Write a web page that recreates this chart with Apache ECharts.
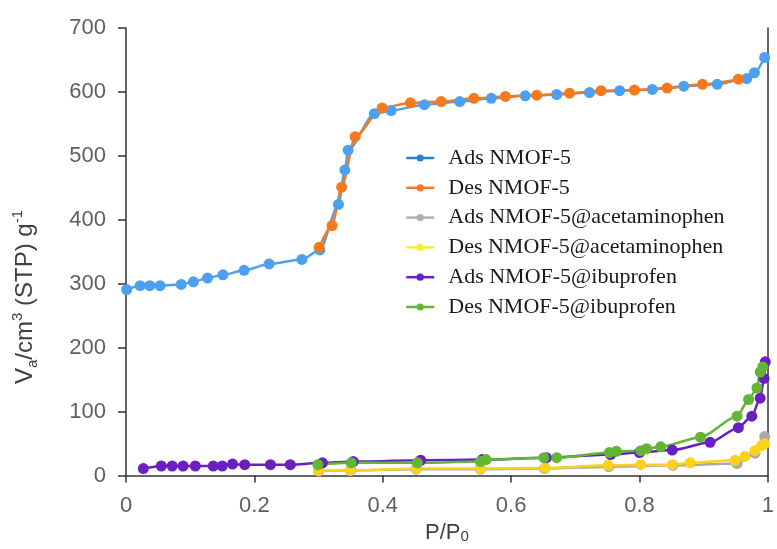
<!DOCTYPE html>
<html>
<head>
<meta charset="utf-8">
<script src="https://cdn.jsdelivr.net/npm/echarts@6/dist/echarts.min.js"></script>
<style>
  html, body { margin: 0; padding: 0; background: #ffffff; }
  #chart { width: 777px; height: 549px; }
</style>
</head>
<body>
<div id="chart"></div>
<script>
// N2 isotherms: relative pressure (P/P0) and adsorbed volume (cm3 STP / g)
const seriesNames = [
  'Ads NMOF-5',
  'Des NMOF-5',
  'Ads NMOF-5@acetaminophen',
  'Des NMOF-5@acetaminophen',
  'Ads NMOF-5@ibuprofen',
  'Des NMOF-5@ibuprofen'
];

const adsNmofP = [0.001, 0.022, 0.037, 0.053, 0.086, 0.105, 0.127, 0.151, 0.184, 0.223, 0.274, 0.302, 0.331, 0.341, 0.346, 0.387, 0.413, 0.465, 0.520, 0.569, 0.622, 0.671, 0.722, 0.769, 0.820, 0.869, 0.921, 0.967, 0.979, 0.995];
const adsNmofV = [291, 297, 297, 297, 299, 303, 309, 314, 321, 331, 338, 353, 424, 478, 509, 566, 571, 580, 585, 590, 594, 596, 599, 602, 604, 609, 612, 621, 630, 654];

const desNmofP = [0.301, 0.321, 0.336, 0.357, 0.399, 0.443, 0.491, 0.542, 0.591, 0.640, 0.691, 0.740, 0.792, 0.843, 0.898, 0.954];
const desNmofV = [357, 391, 451, 530, 575, 583, 585, 590, 593, 595, 598, 602, 603, 606, 612, 620];

const adsAcetP = [0.300, 0.350, 0.452, 0.552, 0.652, 0.752, 0.852, 0.952, 0.980, 0.995];
const adsAcetV = [7, 8, 10, 10, 11, 14, 16, 19, 35, 61];

const desAcetP = [0.300, 0.349, 0.452, 0.552, 0.653, 0.751, 0.802, 0.851, 0.879, 0.949, 0.964, 0.980, 0.990, 0.995];
const desAcetV = [8, 8, 11, 11, 12, 16, 17, 17, 20, 24, 30, 39, 47, 50];

const adsIbuP = [0.027, 0.055, 0.072, 0.089, 0.108, 0.136, 0.150, 0.166, 0.185, 0.225, 0.256, 0.306, 0.354, 0.459, 0.555, 0.655, 0.755, 0.800, 0.851, 0.910, 0.954, 0.975, 0.988, 0.994, 0.996];
const adsIbuV = [11, 15, 15, 15, 15, 15, 15, 18, 17, 17, 17, 20, 22, 24, 25, 28, 33, 36, 40, 52, 75, 93, 121, 152, 178];

const desIbuP = [0.299, 0.351, 0.454, 0.552, 0.561, 0.651, 0.671, 0.753, 0.764, 0.802, 0.811, 0.833, 0.895, 0.952, 0.970, 0.983, 0.988, 0.992];
const desIbuV = [17, 20, 20, 22, 25, 28, 28, 36, 38, 39, 42, 45, 60, 93, 119, 137, 162, 170];

const xTicks = [0, 0.2, 0.4, 0.6, 0.8, 1];
const yTicks = [0, 100, 200, 300, 400, 500, 600, 700];

const pressures = [adsNmofP, desNmofP, adsAcetP, desAcetP, adsIbuP, desIbuP];
const volumes = [adsNmofV, desNmofV, adsAcetV, desAcetV, adsIbuV, desIbuV];
const colors = ['#4d9ff0', '#f57a1e', '#a9a9a9', '#fcd21a', '#6a1fc2', '#63b536'];
const legendColors = ['#2f7fd0', '#f57a1e', '#b0b0b0', '#f7ec3c', '#6a1fc2', '#63b536'];

const sansFont = 'Liberation Sans, Arial, sans-serif';

const series = seriesNames.map((name, i) => ({
  name: name,
  type: 'line',
  data: pressures[i].map((p, k) => [p, volumes[i][k]]),
  smooth: 0.25,
  smoothMonotone: 'x',
  symbol: 'circle',
  symbolSize: 11,
  showSymbol: true,
  color: colors[i],
  lineStyle: { width: 2.5, color: colors[i] },
  itemStyle: { color: colors[i] },
  emphasis: { disabled: true },
  animation: false
}));

const tickLabelStyle = {
  fontFamily: sansFont,
  fontSize: 22,
  color: '#5f5f5f'
};

const chart = echarts.init(document.getElementById('chart'), null, { renderer: 'canvas' });
chart.setOption({
  animation: false,
  backgroundColor: '#ffffff',
  grid: { left: 126, right: 4, top: 28, bottom: 67, containLabel: false },
  xAxis: {
    type: 'value',
    min: 0,
    max: 1,
    interval: 0.2,
    name: 'P/P{sub|0}',
    nameLocation: 'middle',
    nameGap: 42,
    nameTextStyle: {
      fontFamily: sansFont,
      fontSize: 22,
      color: '#404040',
      rich: {
        sub: { fontSize: 15, verticalAlign: 'bottom', color: '#404040', fontFamily: sansFont, padding: [8, 0, 0, 0] }
      }
    },
    axisLine: { show: true, onZero: false, lineStyle: { color: '#333333', width: 1.5 } },
    axisTick: { show: true, inside: false, length: 7, lineStyle: { color: '#333333', width: 1.5 } },
    axisLabel: {
      ...tickLabelStyle,
      margin: 19,
      formatter: v => {
        const t = xTicks.find(x => Math.abs(x - v) < 1e-9);
        return t === undefined ? '' : String(t);
      }
    },
    splitLine: { show: false }
  },
  yAxis: [{
    type: 'value',
    min: 0,
    max: 700,
    interval: 100,
    axisLine: { show: true, lineStyle: { color: '#333333', width: 1.5 } },
    axisTick: { show: true, inside: false, length: 8, lineStyle: { color: '#333333', width: 1.5 } },
    axisLabel: {
      ...tickLabelStyle,
      margin: 20,
      formatter: v => (yTicks.indexOf(v) >= 0 ? String(v) : '')
    },
    splitLine: { show: false }
  }, {
    type: 'value',
    position: 'right',
    min: 0,
    max: 700,
    interval: 100,
    axisLine: { show: true, lineStyle: { color: '#333333', width: 1.5 } },
    axisTick: { show: false },
    axisLabel: { show: false },
    splitLine: { show: false }
  }],
  graphic: [{
    // vertical axis title, written bottom-to-top
    type: 'text',
    x: 25,
    y: 297,
    rotation: Math.PI / 2,
    silent: true,
    style: {
      text: 'V{sub|a}/cm{sup|3} (STP) g{sup|-1}',
      fontFamily: sansFont,
      fontSize: 24,
      lineHeight: 30,
      fill: '#404040',
      align: 'center',
      verticalAlign: 'middle',
      rich: {
        sub: { fontSize: 15, verticalAlign: 'bottom', lineHeight: 30, fill: '#404040', fontFamily: sansFont, padding: [10, 0, 0, 0] },
        sup: { fontSize: 15, verticalAlign: 'top', lineHeight: 30, fill: '#404040', fontFamily: sansFont, padding: [0, 0, 10, 0] }
      }
    }
  }],
  legend: {
    orient: 'vertical',
    left: 405,
    top: 147,
    itemWidth: 28,
    itemHeight: 9,
    itemGap: 7.8,
    padding: 0,
    selectedMode: false,
    data: seriesNames.map((n, i) => ({
      name: n,
      itemStyle: { color: legendColors[i] },
      lineStyle: { color: legendColors[i], width: 2.5 }
    })),
    textStyle: {
      fontFamily: 'Liberation Serif, Times New Roman, serif',
      fontSize: 22,
      lineHeight: 22,
      color: '#1a1a1a',
      padding: [0, 0, 0, 9]
    }
  },
  series: series
});
</script>
</body>
</html>
